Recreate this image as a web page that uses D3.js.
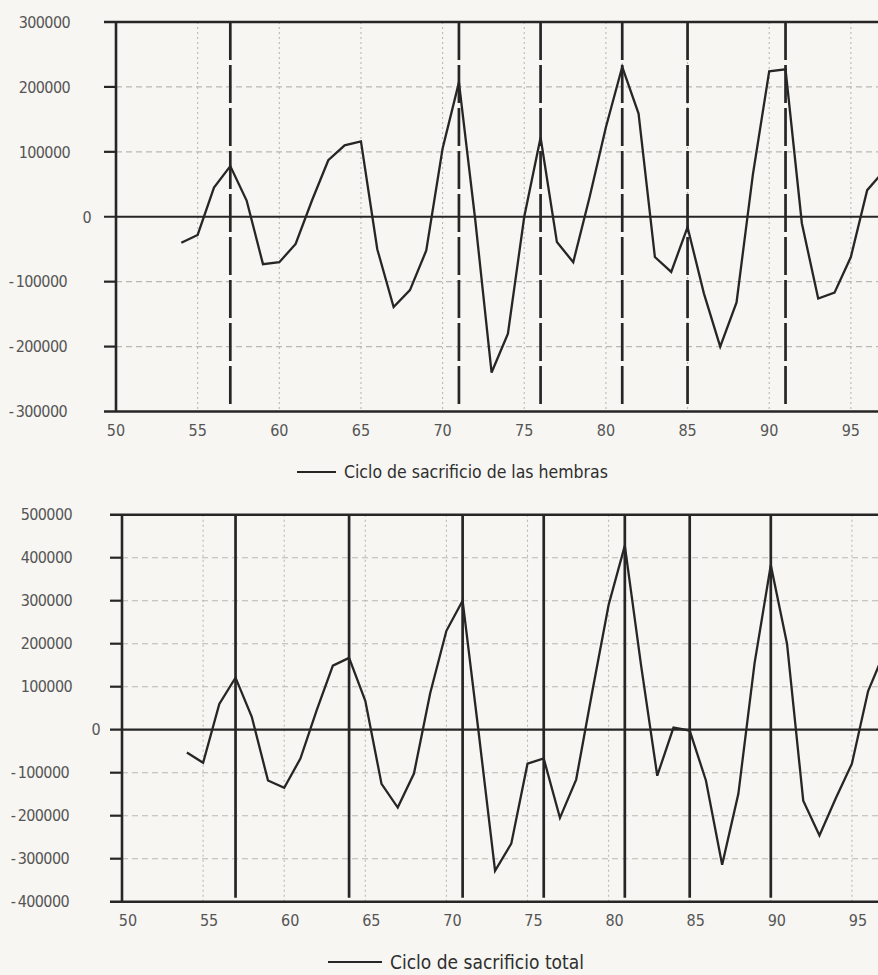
<!DOCTYPE html>
<html>
<head>
<meta charset="utf-8">
<script src="https://cdn.jsdelivr.net/npm/d3@7"></script>
<style>
  body { margin: 0; background: #f7f6f2; }
  svg { display: block; }
  text { font-family: "Liberation Sans Narrow", "DejaVu Sans Condensed", "Roboto Condensed", sans-serif; font-stretch: condensed; }
</style>
</head>
<body>
<svg id="chart" width="878" height="975"></svg>
<script>
// years shown on both panels
const years = d3.range(54, 98);

// ciclo de sacrificio de las hembras (54..97)
const hembras = [
  -40000, -28000, 45000, 78000, 25000, -73000, -70000, -42000, 25000, 87000,
  110000, 116000, -50000, -139000, -113000, -52000, 105000, 207000, -5000, -240000,
  -180000, 0, 122000, -39000, -70000, 30000, 138000, 231000, 159000, -62000,
  -85000, -16000, -118000, -200000, -132000, 65000, 224000, 227000, -10000, -126000,
  -117000, -62000, 41000, 70000
];

// ciclo de sacrificio total (54..97)
const total = [
  -53000, -77000, 60000, 121000, 30000, -118000, -135000, -67000, 45000, 149000,
  167000, 67000, -126000, -181000, -102000, 85000, 230000, 300000, -10000, -328000,
  -265000, -79000, -67000, -205000, -116000, 90000, 290000, 428000, 150000, -107000,
  5000, -2000, -118000, -314000, -149000, 155000, 383000, 200000, -165000, -246000,
  -160000, -79000, 90000, 180000
];

// vertical reference lines
const hembrasEvents = [57, 71, 76, 81, 85, 91];
const totalEvents = [57, 64, 71, 76, 81, 85, 90];

const xTicks = d3.range(50, 100, 5);
const hembrasTicks = d3.range(-300000, 300001, 100000);
const totalTicks = d3.range(-400000, 500001, 100000);

const svg = d3.select('#chart');
const ink = '#262626';
const grid = '#b9b9b4';
const label = '#555';

function drawPanel(cfg) {
  const x = d3.scaleLinear().domain([50, 100]).range([cfg.left, cfg.left + 50 * cfg.step]);
  const y = d3.scaleLinear().domain(cfg.yDomain).range([cfg.bottom, cfg.top]);
  const g = svg.append('g');
  const yMin = cfg.yDomain[0], yMax = cfg.yDomain[1];

  // grid lines
  g.append('g')
    .selectAll('line')
    .data(cfg.yTicks.filter(d => d !== 0 && d !== yMin && d !== yMax))
    .join('line')
    .attr('x1', x(50)).attr('x2', 878)
    .attr('y1', d => y(d)).attr('y2', d => y(d))
    .attr('stroke', grid).attr('stroke-width', 1.1)
    .attr('stroke-dasharray', '6,4');

  g.append('g')
    .selectAll('line')
    .data(xTicks.filter(d => d > 50))
    .join('line')
    .attr('x1', d => x(d)).attr('x2', d => x(d))
    .attr('y1', y(yMax)).attr('y2', y(yMin))
    .attr('stroke', grid).attr('stroke-width', 1.1)
    .attr('stroke-dasharray', '2,3');

  // reference lines
  g.append('g')
    .selectAll('line')
    .data(cfg.events)
    .join('line')
    .attr('x1', d => x(d)).attr('x2', d => x(d))
    .attr('y1', y(yMax)).attr('y2', y(yMin) - 4)
    .attr('stroke', ink).attr('stroke-width', 2.7)
    .attr('stroke-dasharray', cfg.eventDash);

  // frame: top, zero, bottom + ticks
  g.append('g')
    .selectAll('line')
    .data(cfg.yTicks)
    .join('line')
    .attr('x1', x(50) - 12)
    .attr('x2', d => (d === 0 || d === yMin || d === yMax) ? 878 : x(50))
    .attr('y1', d => y(d)).attr('y2', d => y(d))
    .attr('stroke', ink)
    .attr('stroke-width', d => (d === yMin || d === yMax) ? 2.6 : 2.2);

  g.append('line')
    .attr('x1', x(50)).attr('x2', x(50))
    .attr('y1', y(yMax)).attr('y2', y(yMin))
    .attr('stroke', ink).attr('stroke-width', 2.6);

  // y labels
  g.append('g')
    .selectAll('text')
    .data(cfg.yTicks)
    .join('text')
    .attr('x', d => d === 0 ? x(50) - cfg.zeroGap : x(50) - cfg.labelGap - (d < 0 ? 3 : 0))
    .attr('y', d => y(d))
    .attr('dy', '0.36em')
    .attr('text-anchor', 'end')
    .attr('font-size', 16)
    .attr('letter-spacing', -0.6)
    .attr('fill', label)
    .text(d => d < 0 ? '-\u2009' + (-d) : String(d));

  // x labels
  g.append('g')
    .selectAll('text')
    .data(xTicks)
    .join('text')
    .attr('x', d => x(d) + cfg.xLabelShift)
    .attr('y', y(yMin) + 19)
    .attr('dy', '0.36em')
    .attr('text-anchor', 'middle')
    .attr('font-size', 16)
    .attr('fill', label)
    .text(d => d);

  // series
  const line = d3.line()
    .x((d, i) => x(years[i]))
    .y(d => y(d));

  g.append('path')
    .datum(cfg.values)
    .attr('d', line)
    .attr('fill', 'none')
    .attr('stroke', ink)
    .attr('stroke-width', 2.3)
    .attr('stroke-linejoin', 'miter');

  // legend
  const lg = g.append('g');
  lg.append('line')
    .attr('x1', cfg.legend.x1).attr('x2', cfg.legend.x2)
    .attr('y1', cfg.legend.y).attr('y2', cfg.legend.y)
    .attr('stroke', ink).attr('stroke-width', 2);
  lg.append('text')
    .attr('x', cfg.legend.tx)
    .attr('y', cfg.legend.y)
    .attr('dy', '0.36em')
    .attr('font-size', cfg.legend.size)
    .attr('fill', '#2e2e2e')
    .text(cfg.legend.text);
}

drawPanel({
  left: 116, step: 16.33, top: 22, bottom: 411.5,
  yDomain: [-300000, 300000], yTicks: hembrasTicks,
  values: hembras, events: hembrasEvents, eventDash: '38,5',
  labelGap: 46, zeroGap: 25, xLabelShift: 0,
  legend: { x1: 297, x2: 336, y: 472, tx: 344, size: 17.5, text: 'Ciclo de sacrificio de las hembras' }
});

drawPanel({
  left: 122, step: 16.22, top: 514.7, bottom: 901.7,
  yDomain: [-400000, 500000], yTicks: totalTicks,
  values: total, events: totalEvents, eventDash: null,
  labelGap: 50, zeroGap: 22, xLabelShift: 6,
  legend: { x1: 328, x2: 382, y: 962, tx: 390, size: 19, text: 'Ciclo de sacrificio total' }
});
</script>
</body>
</html>
